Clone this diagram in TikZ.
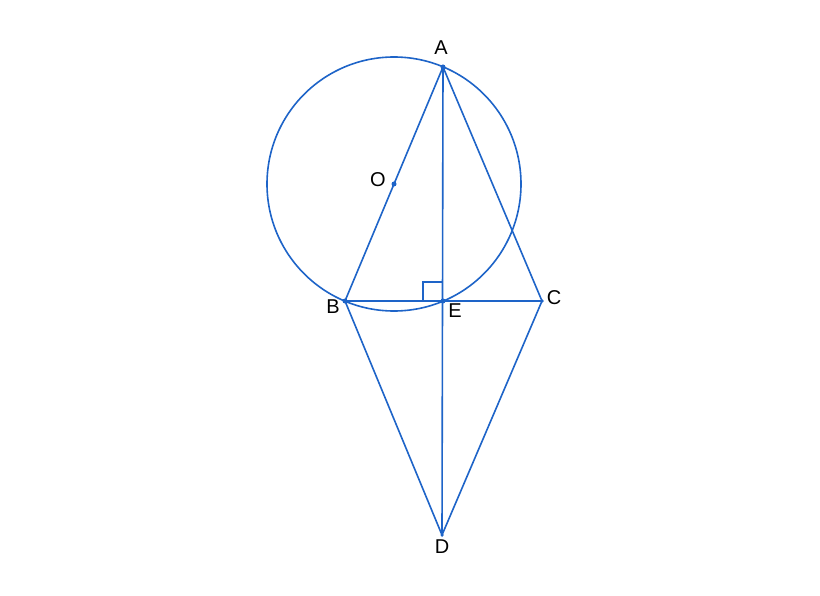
\documentclass[tikz,border=0pt]{standalone}
\usepackage{fontspec}
\setmainfont{Liberation Sans}
\definecolor{geo}{RGB}{30,100,200}
\begin{document}
\begin{tikzpicture}[x=1pt,y=-1pt,
  ln/.style={draw=geo,line width=1.6pt},
  lbl/.style={font=\fontsize{20}{22}\selectfont,text=black,inner sep=0pt},
  pt/.style={circle,fill=geo,inner sep=0pt,minimum size=5pt}]
\useasboundingbox[fill=white] (0,0) rectangle (820,596);
\coordinate (A) at (443,67);
\coordinate (B) at (345,301);
\coordinate (C) at (542,301);
\coordinate (E) at (443,301);
\coordinate (D) at (442,535);
\coordinate (O) at (394,184);
\draw[ln] (O) circle[radius=127];
\draw[ln] (A) -- (B) -- (C) -- cycle;
\draw[ln] (A) -- (D);
\draw[ln] (B) -- (D) -- (C);
\draw[ln,line width=1.3pt] (423,301) -- (423,282) -- (443,282);
\node[pt] at (A) {};
\node[pt] at (B) {};
\node[pt] at (E) {};
\node[pt] at (O) {};
\node[pt,minimum size=3.5pt] at (C) {};
\node[pt,minimum size=3.5pt] at (D) {};
\node[lbl] (lA) at (441,48) {A};
\node[lbl] (lO) at (378,180) {O};
\node[lbl] (lB) at (333,307) {B};
\node[lbl] (lE) at (455,311) {E};
\node[lbl] (lC) at (554,298) {C};
\node[lbl] (lD) at (442,547) {D};
\end{tikzpicture}
\end{document}
